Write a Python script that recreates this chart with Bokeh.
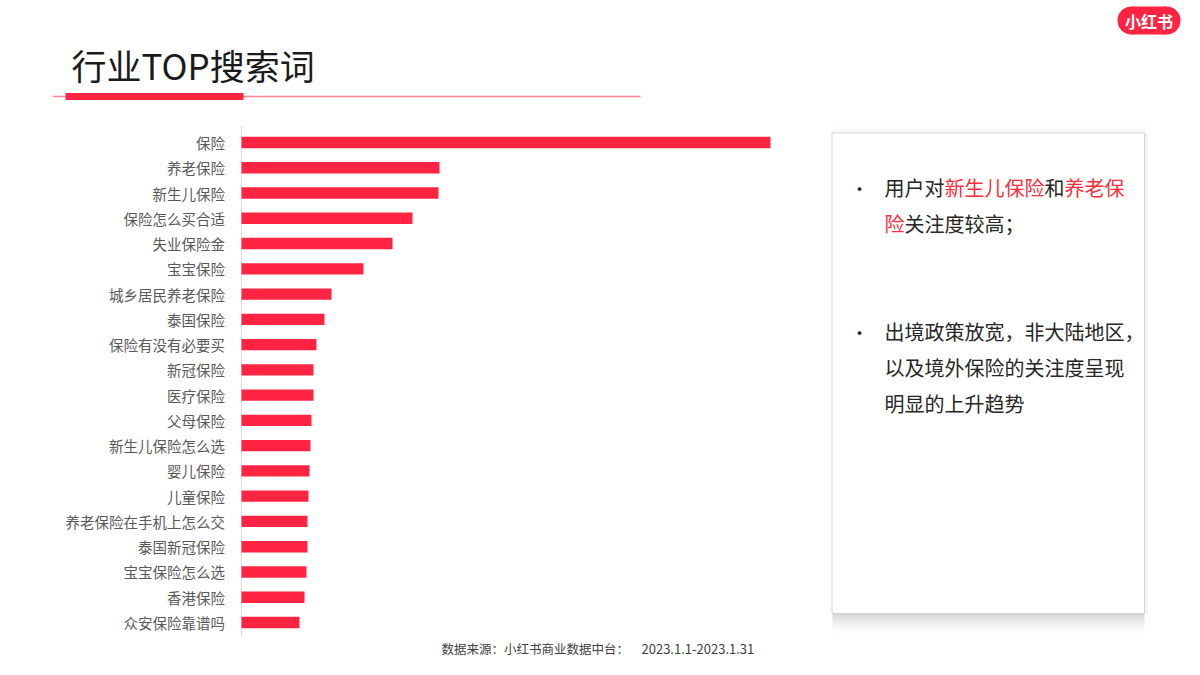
from bokeh.plotting import figure
from bokeh.models import Range1d
from bokeh.embed import file_html
from bokeh.resources import INLINE
from bokeh.core.properties import value

# ---- data ----
categories = ["保险", "养老保险", "新生儿保险", "保险怎么买合适", "失业保险金", "宝宝保险",
              "城乡居民养老保险", "泰国保险", "保险有没有必要买", "新冠保险", "医疗保险",
              "父母保险", "新生儿保险怎么选", "婴儿保险", "儿童保险", "养老保险在手机上怎么交",
              "泰国新冠保险", "宝宝保险怎么选", "香港保险", "众安保险靠谱吗"]
search_index = [529, 198, 197, 171, 151, 122, 90, 83, 75, 72, 72, 70, 69, 68, 67, 66, 66, 65, 63, 58]

title_text = "行业TOP搜索词"
source_cn = "数据来源：小红书商业数据中台："
source_date = "2023.1.1-2023.1.31"

FONT = value("Noto Sans CJK SC")
RED = "#ff2442"
TXT_RED = "#ff2d3c"

n = len(categories)
ypos = [n - 1 - i for i in range(n)]

W, H = 1184, 659
p = figure(width=W, height=H, x_range=Range1d(-241, 943), y_range=Range1d(-1.465, 24.621),
           x_axis_location=None, y_axis_location=None, min_border=0,
           toolbar_location=None, output_backend="svg", outline_line_color=None)
p.grid.visible = False
p.background_fill_color = "white"
p.border_fill_color = "white"
p.extra_x_ranges = {"px": Range1d(0, 1184)}
p.extra_y_ranges = {"px": Range1d(659, 0)}
PX = dict(x_range_name="px", y_range_name="px")

# ---- title ----
p.text(x=[71], y=[64], text=[title_text], text_font=FONT, text_font_size="35px",
       text_baseline="middle", text_color="#1a1a1a", **PX)
p.segment(x0=[52], y0=[96], x1=[640], y1=[96], line_color=RED, line_alpha=0.55, line_width=1.5, **PX)
p.quad(left=[65], right=[243], top=[92.5], bottom=[99.5], fill_color=RED, line_color=None, **PX)

# ---- logo ----
p.quad(left=[1131], right=[1166], top=[6], bottom=[34], fill_color=RED, line_color=None, **PX)
p.circle(x=[1131, 1166], y=[20, 20], radius=14, fill_color=RED, line_color=None, **PX)
p.text(x=[1148.5], y=[20.5], text=["小红书"], text_font=FONT, text_font_size="16px", text_font_style="bold",
       text_align="center", text_baseline="middle", text_color="white", **PX)

# ---- bar chart ----
p.segment(x0=[241], y0=[126], x1=[241], y1=[636], line_color="#d9d9d9", line_width=1, **PX)
p.hbar(y=ypos, left=0, right=search_index, height=0.45, fill_color=RED, line_color=None)
p.text(x=0, y=ypos, text=categories, x_offset=-16.5, text_align="right", text_baseline="middle",
       text_font=FONT, text_font_size="14.5px", text_color="#595959")

# ---- text box with shadow ----
for i, a in enumerate([0.30, 0.26, 0.22, 0.18, 0.14, 0.10, 0.07, 0.05, 0.03, 0.02]):
    p.quad(left=[832], right=[1144], top=[613 + 2 * i], bottom=[615 + 2 * i],
           fill_color="#7a7a7a", fill_alpha=a, line_color=None, **PX)
for i, a in enumerate([0.02, 0.03, 0.04, 0.06, 0.08]):
    p.quad(left=[831], right=[1145], top=[123 + 2 * i], bottom=[125 + 2 * i],
           fill_color="#9a9a9a", fill_alpha=a, line_color=None, **PX)
p.quad(left=[1144], right=[1147], top=[133], bottom=[613], fill_color="#9a9a9a", fill_alpha=0.12,
       line_color=None, **PX)
p.quad(left=[831.5], right=[1144], top=[132.5], bottom=[613], fill_color="white",
       line_color="#d4d4d4", line_width=1, **PX)

TX = dict(text_font=FONT, text_font_size="20px", text_baseline="middle", **PX)
DARK = "#262626"
p.text(x=[859, 859], y=[187, 331], text=["•", "•"], text_color=DARK, text_align="center",
       text_font=FONT, text_font_size="18px", text_baseline="middle", **PX)
# bullet 1 (mixed colours)
p.text(x=[884, 1044, 904], y=[187, 187, 223], text=["用户对", "和", "关注度较高；"], text_color=DARK, **TX)
p.text(x=[944, 1064, 884], y=[187, 187, 223], text=["新生儿保险", "养老保", "险"], text_color=TXT_RED, **TX)
# bullet 2
p.text(x=[884, 884, 884], y=[331, 367, 403],
       text=["出境政策放宽，非大陆地区，", "以及境外保险的关注度呈现", "明显的上升趋势"],
       text_color=DARK, **TX)

# ---- source ----
p.text(x=[441], y=[648], text=[source_cn], text_font=FONT, text_font_size="12.5px",
       text_baseline="middle", text_color="#404040", **PX)
p.text(x=[641], y=[648], text=[source_date], text_font=FONT, text_font_size="13px",
       text_baseline="middle", text_color="#404040", **PX)

open("out.html", "w").write(file_html(p, INLINE))
